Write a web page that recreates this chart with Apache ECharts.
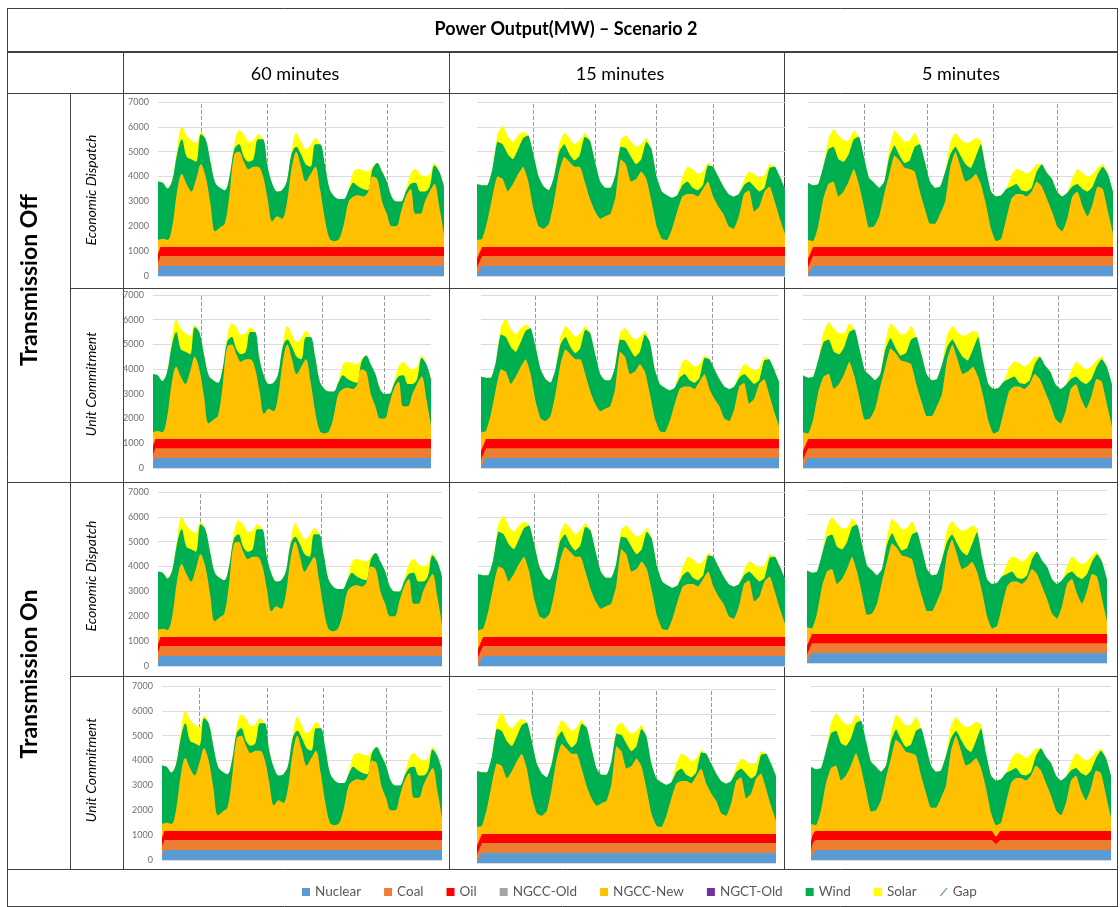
<!DOCTYPE html>
<html>
<head>
<meta charset="utf-8">
<title>Power Output(MW) – Scenario 2</title>
<script src="https://cdn.jsdelivr.net/npm/echarts@6/dist/echarts.min.js"></script>
<style>
  html, body { margin: 0; padding: 0; background: #fff; }
  #chart { width: 1120px; height: 907px; }
</style>
</head>
<body>
<div id="chart"></div>
<script>
// hour of the week shown in each panel (2-hour steps)
const hours = [0,2,4,6,8,10,12,14,16,18,20,22,24,26,28,30,32,34,36,38,40,42,44,46,48,50,52,54,56,58,
  60,62,64,66,68,70,72,74,76,78,80,82,84,86,88,90,92,94,96,98,100,102,104,106,108,110,112,114,116,118,120];

// cumulative levels (MW): top of solar, top of wind, top of NGCC-New
// 60 minutes
const solarTop60 = [3800,3750,3520,3850,5100,6000,5650,5450,5350,5800, 5500,4600,3750,3550,3450,4000,5300,5850,5700,5400,
  5450,5700,5500,4400,3700,3400,3450,3800,5000,5750, 5400,5100,5250,5550,5300,4500,3500,3200,3100,3100,
  3500,4200,4300,4250,4200,4400,4550,4200,3800,3200, 3000,3000,3450,4100,4300,4100,4000,4100,4550,4200, 3600];
const windTop60 = [3800,3750,3520,3850,4900,5500,4800,4700,4600,5700, 5500,4600,3750,3550,3450,4000,5100,5300,4800,4600,
  4700,5500,5500,4400,3700,3400,3450,3800,4900,5200, 4900,4500,4400,5300,5300,4500,3500,3200,3100,3100,
  3450,3750,3600,3500,3450,4300,4550,4200,3800,3200, 3000,3000,3400,3700,3750,3400,3400,3600,4450,4200, 3600];
const ngccNewTop60 = [1450,1500,1450,2000,3400,4100,3700,3400,3900,4500, 4000,2900,1800,1950,2100,3300,4900,5000,4600,4300,
  4400,4400,4050,3100,2200,2400,2300,2900,4300,5000, 4400,3800,4100,4400,3500,2300,1500,1400,1500,2100,
  3000,3200,3250,3200,3350,4000,3900,3000,2500,2000, 2000,2600,3200,3500,2500,2500,3000,3400,3700,2800, 1700];

// 15 minutes
const solarTop15 = [3700,3650,3650,4300,5700,6050,5600,5400,5650,5800, 5650,4900,4000,3600,3450,4000,5300,5750,5550,5300,
  5450,5750,5450,4600,3800,3550,3550,4100,5500,5650, 5400,5200,5300,5550,5100,4000,3400,3250,3150,3250,
  4000,4400,4300,4100,4200,4550,4400,4000,3600,3300, 3200,3300,3850,4200,4100,3950,4050,4500,4400,4000, 3500];
const windTop15 = [3700,3650,3650,4300,5400,5300,4900,4700,5100,5550, 5650,4900,4000,3600,3450,4000,5000,5300,4900,4650,
  4850,5600,5450,4600,3800,3550,3550,4100,5200,5150, 4800,4500,4700,5400,5100,4000,3400,3250,3150,3250,
  3650,3800,3550,3450,3650,4450,4400,4000,3600,3300, 3200,3300,3650,3800,3600,3400,3550,4350,4400,4000, 3500];
const ngccNewTop15 = [1450,1500,2200,3200,4000,3900,3400,3700,4100,4400, 3800,2700,2000,1900,2100,3000,4200,4800,4600,4400,
  4400,3800,3100,2600,2300,2400,2500,3200,4700,4500, 3800,3900,4200,3900,3000,2000,1500,1450,1900,2600,
  3200,3300,3300,3200,3500,3800,3200,2800,2500,2000, 1900,2400,3300,3450,2600,2800,3400,3600,3000,2300, 1700];

// 5 minutes
const solarTop5 = [3750,3650,3700,4400,5500,5900,5650,5450,5450,5850, 5600,4800,3950,3750,3550,3800,5100,5850,5650,5400,
  5450,5750,5300,4600,3800,3550,3600,4200,5400,5750, 5500,5350,5400,5550,5450,4300,3400,3200,3250,3500,
  4050,4300,4250,4100,4250,4500,4500,4150,3900,3400, 3200,3350,3900,4300,4150,4000,4100,4350,4500,4100, 3400];
const windTop5 = [3750,3650,3700,4400,5100,5200,4700,4600,4900,5500, 5600,4800,3950,3750,3550,3800,4800,5250,4850,4550,
  4650,5200,5300,4600,3800,3550,3600,4200,4900,5200, 4850,4500,4350,4800,5300,4300,3400,3200,3250,3500,
  3600,3700,3450,3400,3550,4200,4500,4150,3900,3400, 3200,3350,3600,3700,3500,3400,3600,4100,4400,4100, 3400];
const ngccNewTop5 = [1450,1400,2000,3100,3700,3800,3200,3400,3800,4300, 3700,2800,1950,2000,2400,3300,4100,4850,4650,4350,
  4300,4200,3400,2700,2100,2100,2500,3000,4400,5000, 4400,3800,3900,4100,3700,2900,1900,1400,1500,2300,
  3100,3300,3300,3200,3400,3800,3600,3100,2600,2000, 1800,2300,3200,3400,2800,2400,2900,3600,3500,2600, 1700];

// flat bands (top of nuclear, coal, oil) with the ramp at the first hour
const bandHours60 = [0, 1, 120];
const nuclearTop60 = [200, 400, 400];
const coalTop60 = [550, 800, 800];
const oilTop60 = [900, 1170, 1170];

const bandHours = [0, 2, 120];
const nuclearTop = [50, 400, 400];
const coalTop = [350, 800, 800];
const oilTop = [700, 1170, 1170];

// 5 min / transmission on / unit commitment has a short oil + coal dip
const bandHoursDip = [0, 2, 72, 74, 76, 120];
const nuclearTopDip = [50, 400, 400, 400, 400, 400];
const coalTopDip = [350, 800, 800, 650, 800, 800];
const oilTopDip = [700, 1170, 1170, 950, 1170, 1170];

const legendNames = ['Nuclear', 'Coal', 'Oil', 'NGCC-Old', 'NGCC-New', 'NGCT-Old', 'Wind', 'Solar', 'Gap'];

const COLORS = {
  'Nuclear': '#5b9bd5', 'Coal': '#ed7d31', 'Oil': '#ff0000', 'NGCC-Old': '#a5a5a5',
  'NGCC-New': '#ffc000', 'NGCT-Old': '#7030a0', 'Wind': '#00b050', 'Solar': '#ffff00', 'Gap': '#5b9bd5'
};
const FONT = 'Lato, "Open Sans", sans-serif';

const columns = [
  { solar: solarTop60, wind: windTop60, ngcc: ngccNewTop60, bx: bandHours60, nuc: nuclearTop60, coal: coalTop60, oil: oilTop60, smooth: 0.35 },
  { solar: solarTop15, wind: windTop15, ngcc: ngccNewTop15, bx: bandHours, nuc: nuclearTop, coal: coalTop, oil: oilTop, smooth: 0.15 },
  { solar: solarTop5, wind: windTop5, ngcc: ngccNewTop5, bx: bandHours, nuc: nuclearTop, coal: coalTop, oil: oilTop, smooth: 0.15 }
];

// panel layout: plot rectangle [left, top, width, height] and the dashed day lines (hours)
const panels = [
  { col: 0, rect: [158, 102, 286, 174], days: [18, 46, 70, 96] },
  { col: 1, rect: [477, 102, 308, 174], days: [22, 46, 70, 92] },
  { col: 2, rect: [808, 102, 305, 174], days: [22, 47, 73, 98] },
  { col: 0, rect: [153, 295, 278, 173], days: [21, 48, 73, 100] },
  { col: 1, rect: [481, 295, 298, 173], days: [22, 47, 71, 93] },
  { col: 2, rect: [803, 295, 309, 173], days: [24, 49, 74, 99] },
  { col: 0, rect: [158, 492, 284, 174], days: [18, 46, 69, 97] },
  { col: 1, rect: [478, 492, 307, 174], days: [22, 47, 70, 92] },
  { col: 2, rect: [807, 490, 300, 173], days: [22, 49, 75, 100] },
  { col: 0, rect: [162, 686, 280, 174], days: [16, 45, 69, 96] },
  { col: 1, rect: [477, 689, 299, 174], days: [22, 49, 72, 94] },
  { col: 2, rect: [811, 686, 300, 174], days: [21, 48, 74, 99], dip: true }
];

function pairs(xs, ys) {
  return xs.map((x, i) => [x, ys[i]]);
}

function level(name, idx, xs, ys, smooth) {
  return {
    name: name,
    type: 'line',
    xAxisIndex: idx,
    yAxisIndex: idx,
    data: pairs(xs, ys),
    smooth: smooth,
    showSymbol: false,
    symbol: 'none',
    color: COLORS[name],
    lineStyle: { width: 0 },
    areaStyle: { color: COLORS[name], opacity: 1 },
    silent: true,
    animation: false
  };
}

const grids = [], xAxes = [], yAxes = [], series = [];

panels.forEach((p, i) => {
  const d = columns[p.col];
  grids.push({ left: p.rect[0], top: p.rect[1], width: p.rect[2], height: p.rect[3], containLabel: false, outerBoundsMode: 'none' });
  xAxes.push({ gridIndex: i, type: 'value', min: 0, max: 120, show: false });
  yAxes.push({
    gridIndex: i, type: 'value', min: 0, max: 7000, interval: 1000,
    axisLine: { show: false }, axisTick: { show: false },
    axisLabel: { show: p.col === 0, fontSize: 9, color: '#707070', margin: 9, fontFamily: FONT, formatter: v => String(v) },
    splitLine: { lineStyle: { color: '#dcdcdc', width: 1 } }
  });

  const solar = level('Solar', i, hours, d.solar, d.smooth);
  solar.markLine = {
    z: 1, silent: true, symbol: 'none', animation: false,
    label: { show: false },
    lineStyle: { type: 'dashed', color: '#9a9a9a', width: 1 },
    data: p.days.map(h => ({ xAxis: h }))
  };
  series.push(solar);
  series.push(level('Wind', i, hours, d.wind, d.smooth));
  series.push(level('NGCC-New', i, hours, d.ngcc, d.smooth));
  if (p.dip) {
    series.push(level('Oil', i, bandHoursDip, oilTopDip, 0.3));
    series.push(level('Coal', i, bandHoursDip, coalTopDip, 0.3));
    series.push(level('Nuclear', i, bandHoursDip, nuclearTopDip, 0));
  } else {
    series.push(level('Oil', i, d.bx, d.oil, 0));
    series.push(level('Coal', i, d.bx, d.coal, 0));
    series.push(level('Nuclear', i, d.bx, d.nuc, 0));
  }
});

// legend-only entries with nothing to draw
['NGCC-Old', 'NGCT-Old', 'Gap'].forEach(name => {
  series.push({ name: name, type: 'line', xAxisIndex: 0, yAxisIndex: 0, data: [], color: COLORS[name] });
});

// table frame
const LINE = '#404040';
function hLine(y, x1, x2, w) {
  return { type: 'line', silent: true, shape: { x1: x1, y1: y, x2: x2, y2: y }, style: { stroke: LINE, lineWidth: w || 1 } };
}
function vLine(x, y1, y2, w) {
  return { type: 'line', silent: true, shape: { x1: x, y1: y1, x2: x, y2: y2 }, style: { stroke: LINE, lineWidth: w || 1 } };
}
function label(text, x, y, size, weight, style, rotate) {
  return {
    type: 'text', silent: true, x: x, y: y, rotation: rotate ? Math.PI / 2 : 0,
    style: {
      text: text, fill: '#000', fontFamily: FONT, fontSize: size, fontWeight: weight || 'normal', fontStyle: style || 'normal',
      align: 'center', verticalAlign: 'middle', textAlign: 'center', textVerticalAlign: 'middle'
    }
  };
}

const graphics = [
  hLine(8.5, 7, 1118), hLine(52, 7, 1118, 2), hLine(93.5, 7, 1118),
  hLine(288.5, 70, 1118), hLine(482.5, 7, 1118), hLine(676.5, 70, 1118),
  hLine(869.5, 7, 1118), hLine(906.5, 7, 1118),
  vLine(7.5, 8, 907), vLine(1117.5, 8, 907),
  vLine(123.5, 52, 870), vLine(449.5, 52, 870), vLine(784.5, 52, 870), vLine(70.5, 93, 870),
  label('Power Output(MW) \u2013 Scenario 2', 566, 29, 18, 'bold'),
  label('60 minutes', 295, 74, 18),
  label('15 minutes', 620, 74, 18),
  label('5 minutes', 961, 74, 18),
  label('Transmission Off', 30, 280, 23, 'bold', null, true),
  label('Transmission On', 30, 674, 23, 'bold', null, true),
  label('Economic Dispatch', 91, 190, 14, 'normal', 'italic', true),
  label('Unit Commitment', 91, 384, 14, 'normal', 'italic', true),
  label('Economic Dispatch', 91, 576, 14, 'normal', 'italic', true),
  label('Unit Commitment', 91, 770, 14, 'normal', 'italic', true)
];

const chart = echarts.init(document.getElementById('chart'), null, { renderer: 'canvas' });
chart.setOption({
  animation: false,
  backgroundColor: '#fff',
  grid: grids,
  xAxis: xAxes,
  yAxis: yAxes,
  legend: {
    left: 297, top: 880,
    itemWidth: 8, itemHeight: 8, itemGap: 23,
    selectedMode: false,
    textStyle: { fontSize: 13.5, color: '#595959', fontFamily: FONT },
    data: legendNames.map(n => n === 'Gap'
      ? { name: n, icon: 'path://M8,0 L10,0 L2,10 L0,10 Z' }
      : { name: n, icon: 'rect' })
  },
  graphic: graphics,
  series: series
});
window.onresize = () => {
  chart.resize();
};
</script>
</body>
</html>
